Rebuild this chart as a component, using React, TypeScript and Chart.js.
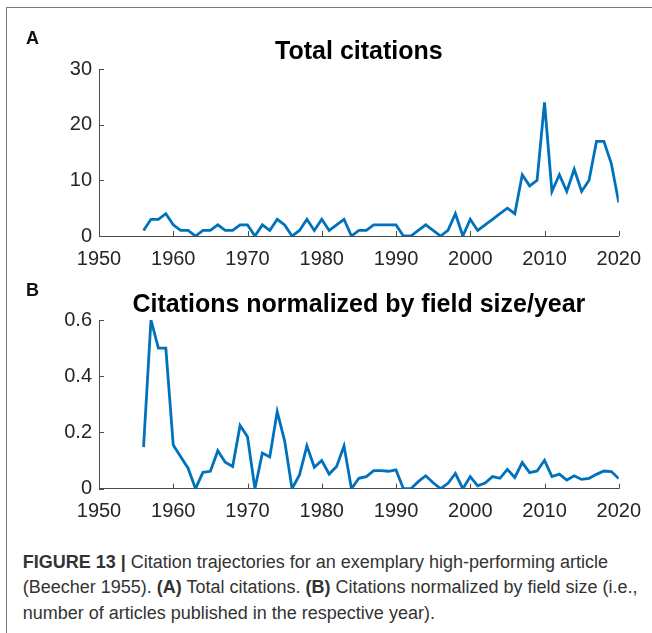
import React, { useEffect, useRef } from "react";
import { Chart, registerables } from "chart.js";

Chart.register(...registerables);

const years = [
  1956, 1957, 1958, 1959, 1960, 1961, 1962, 1963, 1964, 1965,
  1966, 1967, 1968, 1969, 1970, 1971, 1972, 1973, 1974, 1975,
  1976, 1977, 1978, 1979, 1980, 1981, 1982, 1983, 1984, 1985,
  1986, 1987, 1988, 1989, 1990, 1991, 1992, 1993, 1994, 1995,
  1996, 1997, 1998, 1999, 2000, 2001, 2002, 2003, 2004, 2005,
  2006, 2007, 2008, 2009, 2010, 2011, 2012, 2013, 2014, 2015,
  2016, 2017, 2018, 2019, 2020,
];

const totalCitations = [
  1, 3, 3, 4, 2, 1, 1, 0, 1, 1,
  2, 1, 1, 2, 2, 0, 2, 1, 3, 2,
  0, 1, 3, 1, 3, 1, 2, 3, 0, 1,
  1, 2, 2, 2, 2, 0, 0, 1, 2, 1,
  0, 1, 4, 0, 3, 1, 2, 3, 4, 5,
  4, 11, 9, 10, 24, 8, 11, 8, 12, 8,
  10, 17, 17, 13, 6,
];

const normalizedCitations = [
  0.148, 0.6, 0.5, 0.5, 0.155, 0.114, 0.073, 0, 0.058, 0.062,
  0.135, 0.094, 0.079, 0.225, 0.185, 0, 0.127, 0.113, 0.274, 0.17,
  0, 0.049, 0.152, 0.076, 0.1, 0.052, 0.079, 0.152, 0, 0.037,
  0.043, 0.064, 0.064, 0.062, 0.067, 0, 0, 0.025, 0.046, 0.021,
  0, 0.019, 0.054, 0, 0.043, 0.01, 0.02, 0.043, 0.037, 0.069,
  0.04, 0.093, 0.057, 0.063, 0.101, 0.043, 0.052, 0.031, 0.046, 0.033,
  0.037, 0.051, 0.063, 0.061, 0.036,
];

const xTicks = [1950, 1960, 1970, 1980, 1990, 2000, 2010, 2020];
const yTicksA = [0, 10, 20, 30];
const yTicksB = [0, 0.2, 0.4, 0.6];

const titleA = "Total citations";
const titleB = "Citations normalized by field size/year";

const FONT = "'Liberation Sans', Arial, Helvetica, sans-serif";
const AXIS_COLOR = "#4a4a4a";
const TICK_COLOR = "#262626";
const LINE_COLOR = "#0072BD";

const inwardTicks = {
  id: "inwardTicks",
  afterDraw(chart: any) {
    const { ctx, chartArea, scales } = chart;
    const x = scales.x;
    const y = scales.y;
    ctx.save();
    ctx.strokeStyle = AXIS_COLOR;
    ctx.lineWidth = 1;
    ctx.beginPath();
    x.ticks.forEach((t: any) => {
      const px = Math.round(x.getPixelForValue(t.value)) + 0.5;
      ctx.moveTo(px, chartArea.bottom);
      ctx.lineTo(px, chartArea.bottom - 5);
    });
    y.ticks.forEach((t: any) => {
      const py = Math.round(y.getPixelForValue(t.value)) + 0.5;
      ctx.moveTo(chartArea.left, py);
      ctx.lineTo(chartArea.left + 5, py);
    });
    ctx.stroke();
    // title centred over the plot area
    const opts = chart.options.plugins.axisTitle;
    ctx.fillStyle = "#000";
    ctx.font = `bold ${opts.size}px ${FONT}`;
    ctx.textAlign = "center";
    ctx.textBaseline = "alphabetic";
    ctx.fillText(opts.text, (chartArea.left + chartArea.right) / 2, chartArea.top - opts.gap);
    ctx.restore();
  },
};

type PanelProps = {
  values: number[];
  yTicks: number[];
  title: string;
  height: number;
  top: number;
  gap: number;
  xHeight: number;
  fmt: (v: number) => string;
};

function Panel({ values, yTicks, title, height, top, gap, xHeight, fmt }: PanelProps) {
  const ref = useRef<HTMLCanvasElement | null>(null);
  useEffect(() => {
    if (!ref.current) return;
    const data = years.map((yr, i) => ({ x: yr, y: values[i] }));
    const chart = new Chart(ref.current, {
      type: "line",
      data: {
        datasets: [
          {
            data,
            borderColor: LINE_COLOR,
            borderWidth: 2.8,
            pointRadius: 0,
            tension: 0,
            fill: false,
            borderJoinStyle: "miter",
          },
        ],
      },
      options: {
        animation: false,
        responsive: false,
        maintainAspectRatio: false,
        layout: { padding: { left: 0, right: 28.7, top, bottom: 0 } },
        plugins: {
          legend: { display: false },
          tooltip: { enabled: false },
          title: { display: false },
          axisTitle: { text: title, size: 25, gap },
        },
        scales: {
          x: {
            type: "linear",
            min: xTicks[0],
            max: xTicks[xTicks.length - 1],
            afterBuildTicks: (s: any) => {
              s.ticks = xTicks.map((v) => ({ value: v }));
            },
            afterFit: (s: any) => {
              s.height = xHeight;
            },
            ticks: {
              color: TICK_COLOR,
              font: { family: FONT, size: 20 },
              padding: 11,
              maxRotation: 0,
              autoSkip: false,
              callback: (v: any) => String(v),
            },
            grid: { display: false, drawTicks: false },
            border: { display: true, color: AXIS_COLOR, width: 1 },
          },
          y: {
            type: "linear",
            min: yTicks[0],
            max: yTicks[yTicks.length - 1],
            afterBuildTicks: (s: any) => {
              s.ticks = yTicks.map((v) => ({ value: v }));
            },
            afterFit: (s: any) => {
              s.width = 99;
            },
            ticks: {
              color: TICK_COLOR,
              font: { family: FONT, size: 20 },
              padding: 7,
              autoSkip: false,
              callback: (v: any) => fmt(Number(v)),
            },
            grid: { display: false, drawTicks: false },
            border: { display: true, color: AXIS_COLOR, width: 1 },
          },
        },
      },
      plugins: [inwardTicks],
    } as any);
    return () => chart.destroy();
  }, []);
  return <canvas ref={ref} width={652} height={height} style={{ display: "block", width: 652, height }} />;
}

export default function App() {
  const label: React.CSSProperties = {
    position: "absolute",
    left: 26,
    fontFamily: FONT,
    fontWeight: "bold",
    fontSize: 18,
    lineHeight: "18px",
    color: "#111",
  };
  return (
    <div style={{ position: "absolute", left: 0, top: 0, width: 652, height: 633, overflow: "hidden", background: "#fff" }}>
      <div
        style={{
          position: "absolute",
          left: 6,
          top: 7,
          width: 700,
          height: 700,
          border: "1.5px solid #7a7a7a",
        }}
      />
      <div style={{ position: "absolute", left: 0, top: 0 }}>
        <Panel
          values={totalCitations}
          yTicks={yTicksA}
          title={titleA}
          height={270}
          top={69}
          gap={10.5}
          xHeight={34}
          fmt={(v) => String(Math.round(v))}
        />
      </div>
      <div style={{ position: "absolute", left: 0, top: 265 }}>
        <Panel
          values={normalizedCitations}
          yTicks={yTicksB}
          title={titleB}
          height={270}
          top={55}
          gap={8}
          xHeight={46.3}
          fmt={(v) => (v === 0 ? "0" : v.toFixed(1))}
        />
      </div>
      <div style={{ ...label, top: 29.3 }}>A</div>
      <div style={{ ...label, top: 280.6 }}>B</div>
      <div
        style={{
          position: "absolute",
          left: 22.7,
          top: 549.9,
          fontFamily: FONT,
          fontSize: 18,
          lineHeight: "25.5px",
          color: "#333",
          whiteSpace: "nowrap",
        }}
      >
        <b>FIGURE 13 |</b> Citation trajectories for an exemplary high-performing article
        <br />
        (Beecher 1955). <b>(A)</b> Total citations. <b>(B)</b> Citations normalized by field size (i.e.,
        <br />
        number of articles published in the respective year).
      </div>
    </div>
  );
}
